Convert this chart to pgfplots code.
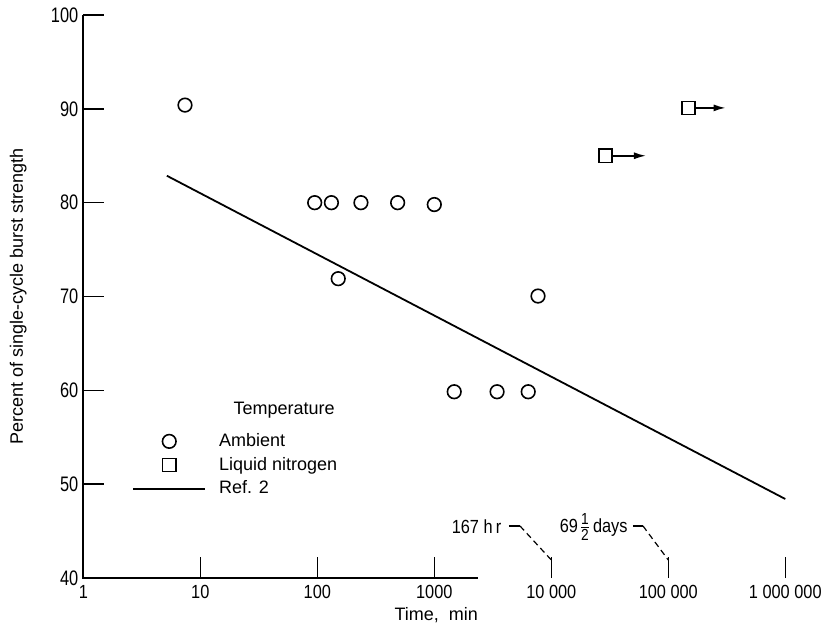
\documentclass[border=0pt]{standalone}
\usepackage{fontspec}
\setmainfont{Liberation Sans}
\newfontfamily\condy{Liberation Sans}[FakeStretch=0.78]
\newfontfamily\condx{Liberation Sans}[FakeStretch=0.86]
\usepackage{pgfplots}
\pgfplotsset{compat=1.18}
\usetikzlibrary{arrows.meta}

\begin{document}
\begin{tikzpicture}
\begin{axis}[
  at={(0,0)}, anchor=south west,
  scale only axis, width=351pt, height=281.5pt,
  xmode=log, log basis x=10,
  xmin=1, xmax=1e6, ymin=40, ymax=100,
  clip=false,
  axis line style={draw=none},
  tick pos=left,
  tick align=inside,
  major tick length=10.5pt,
  every tick/.style={black, line width=0.8pt},
  xminorticks=false, yminorticks=false,
  xtick={1,10,100,1000,10000,100000,1000000},
  xticklabels={1,10,100,1000,10 000,100 000,1 000 000},
  ytick={40,50,60,70,80,90,100},
  /pgf/number format/assume math mode=true,
  yticklabel style={font=\condy\fontsize{10.5}{12}\selectfont, xshift=1pt},
  xticklabel style={font=\condx\fontsize{9.5}{11}\selectfont},
  ylabel={Percent of single-cycle burst strength},
  every axis y label/.style={at={(rel axis cs:-0.0926,0.5)}, rotate=90, anchor=center, font=\fontsize{9}{10}\selectfont},
  legend image code/.code={\draw[mark repeat=2,mark phase=2,#1] plot coordinates {(0pt,0pt) (18pt,0pt) (36pt,0pt)};},
  legend cell align=left,
  legend style={draw=none, fill=none, at={(0.0693,0.263)}, anchor=north west,
    font=\fontsize{9}{10}\selectfont, row sep=0.8pt, column sep=5pt, inner sep=0pt, nodes={inner sep=1.5pt}},
]
\addplot[only marks, mark=o, mark size=3.4pt, line width=0.8pt] coordinates {
  (7.4,90.4) (95,80) (132,80) (151,71.9) (236,80) (486,80) (1000,79.8)
  (1480,59.85) (3440,59.85) (6350,59.85) (7700,70.05)
};
\addlegendentry{Ambient}
\addplot[only marks, mark=square, mark size=3.3pt, line width=0.8pt] coordinates {
  (29100,85) (148600,90.1)
};
\addlegendentry{Liquid nitrogen}
\addplot[black, line width=0.9pt, no marks] coordinates {(5.18,82.87) (1000000,48.42)};
\addlegendentry{Ref. 2}

% axis lines
\draw[line width=0.9pt] (rel axis cs:0,1) -- (rel axis cs:0,0) -- (rel axis cs:0.562,0);
% arrows from liquid nitrogen points
\draw[line width=0.8pt, -{Latex[length=6pt,width=3.5pt]}] (rel axis cs:0.753,0.75) -- (rel axis cs:0.8015,0.75);
\draw[line width=0.8pt, -{Latex[length=6pt,width=3.5pt]}] (rel axis cs:0.871,0.835) -- (rel axis cs:0.915,0.835);
% legend title
\node[font=\fontsize{9}{10}\selectfont] at (rel axis cs:0.286,0.298) {Temperature};
% x label
\node[font=\fontsize{9}{10}\selectfont, yshift=-18.5pt] at (rel axis cs:0.5028,0) {Time,\ \ min};
% annotations
\node[font=\condx\fontsize{9.5}{11}\selectfont, anchor=east, inner sep=0pt] at (rel axis cs:0.596,0.0906) {167 h\,r};
\draw[line width=0.6pt] (rel axis cs:0.6064,0.0924) -- (rel axis cs:0.6221,0.0924);
\draw[line width=0.6pt, dash pattern=on 3pt off 2pt] (rel axis cs:0.6221,0.0924) -- (rel axis cs:0.6667,0.032);
\node[font=\condx\fontsize{9.5}{11}\selectfont, anchor=east, inner sep=0pt] at (rel axis cs:0.7759,0.0906) {69\kern0.3pt$\frac{\hbox{\condx\fontsize{8}{8}\selectfont 1}}{\hbox{\condx\fontsize{8}{8}\selectfont 2}}$\kern1pt days};
\draw[line width=0.6pt] (rel axis cs:0.7830,0.0924) -- (rel axis cs:0.7973,0.0924);
\draw[line width=0.6pt, dash pattern=on 3pt off 2pt] (rel axis cs:0.7973,0.0924) -- (rel axis cs:0.8333,0.032);
\end{axis}
\pgfresetboundingbox
\path[use as bounding box] (-41.65pt,-25pt) rectangle (377.35pt,289pt);
\end{tikzpicture}
\end{document}
